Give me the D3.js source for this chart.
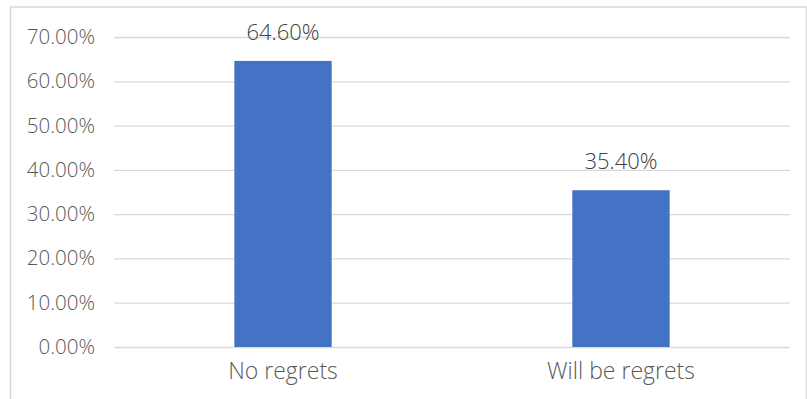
<!DOCTYPE html>
<html>
<head>
<meta charset="utf-8">
<script src="https://cdn.jsdelivr.net/npm/d3@7"></script>
<style>
  html, body { margin: 0; padding: 0; background: #fff; }
  svg { display: block; }
  text { font-family: 'Open Sans', 'Noto Sans', sans-serif; font-weight: 300; }
</style>
</head>
<body>
<svg id="chart" width="807" height="399"></svg>
<script>
// Survey answers and their shares (percent)
const categories = ["No regrets", "Will be regrets"];
const values = [64.6, 35.4];
const yTicks = [0, 10, 20, 30, 40, 50, 60, 70];

const width = 807, height = 399;
const margin = { top: 37, right: 17, bottom: 52, left: 114 };

const svg = d3.select("#chart");

// Chart area outline
svg.append("rect")
  .attr("x", 10.5).attr("y", 7)
  .attr("width", width - 11).attr("height", height + 10)
  .attr("fill", "#fff")
  .attr("stroke", "#d9d9d9")
  .attr("stroke-width", 1.5);

const x = d3.scaleBand()
  .domain(categories)
  .range([margin.left, width - margin.right])
  .paddingInner(0.712)
  .paddingOuter(0.356);

const y = d3.scaleLinear()
  .domain([0, 70])
  .range([height - margin.bottom, margin.top]);

// Horizontal gridlines with percentage labels
const yAxis = d3.axisLeft(y)
  .tickValues(yTicks)
  .tickSize(-(width - margin.left - margin.right))
  .tickPadding(19)
  .tickFormat(d => d.toFixed(2) + "%");

const gy = svg.append("g")
  .attr("transform", `translate(${margin.left},0)`)
  .call(yAxis);
gy.select(".domain").remove();
gy.selectAll(".tick line")
  .attr("stroke", "#d9d9d9")
  .attr("stroke-width", 1.3);
gy.selectAll(".tick text")
  .attr("fill", "#595959")
  .style("font-size", "20.5px");

// Category labels under the baseline
const xAxis = d3.axisBottom(x).tickSize(0).tickPadding(16);
const gx = svg.append("g")
  .attr("transform", `translate(0,${height - margin.bottom})`)
  .call(xAxis);
gx.select(".domain").remove();
gx.selectAll(".tick text")
  .attr("fill", "#595959")
  .style("font-size", "23px");

// Bars
svg.append("g")
  .selectAll("rect")
  .data(values)
  .join("rect")
  .attr("x", (d, i) => x(categories[i]))
  .attr("y", d => y(d))
  .attr("width", x.bandwidth())
  .attr("height", d => y(0) - y(d))
  .attr("fill", "#4472c4");

// Value labels above the bars
svg.append("g")
  .selectAll("text")
  .data(values)
  .join("text")
  .attr("x", (d, i) => x(categories[i]) + x.bandwidth() / 2)
  .attr("y", d => y(d) - 21)
  .attr("text-anchor", "middle")
  .attr("fill", "#404040")
  .style("font-size", "22px")
  .text(d => d.toFixed(2) + "%");
</script>
</body>
</html>
